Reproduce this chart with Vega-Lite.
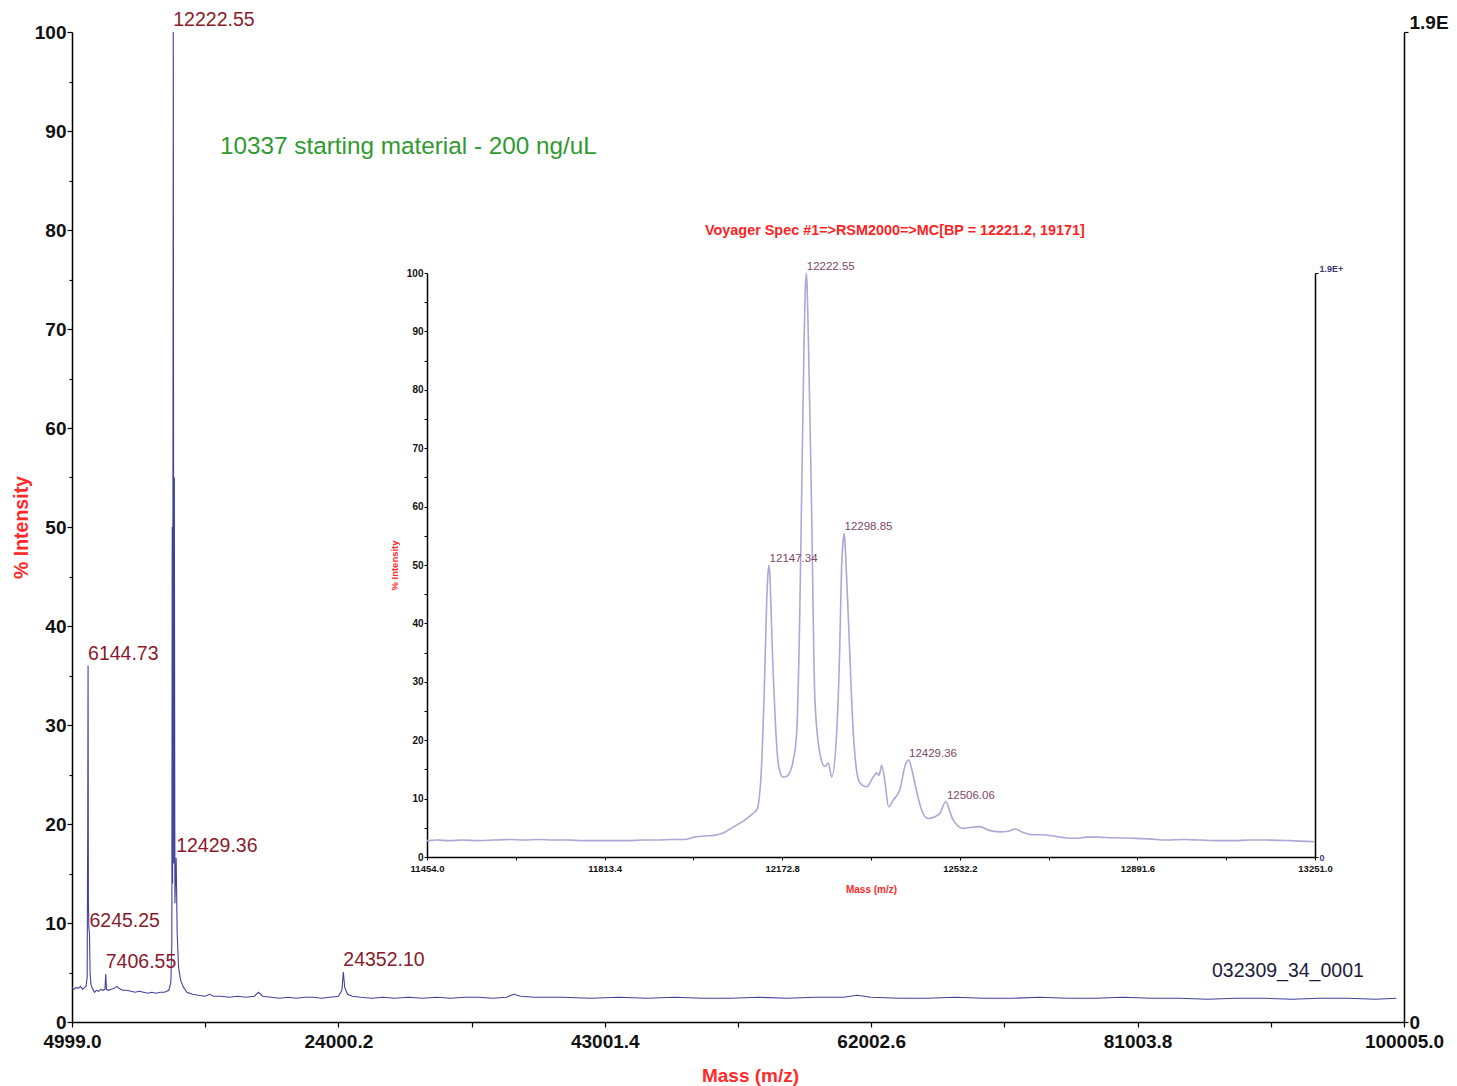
{
  "$schema": "https://vega.github.io/schema/vega-lite/v6.json",
  "width": 1332,
  "height": 990,
  "autosize": "none",
  "padding": {"left": 72, "top": 32, "right": 53, "bottom": 64},
  "background": "white",
  "config": {
    "view": {"stroke": null},
    "font": "Liberation Sans",
    "axis": {"grid": false, "domainColor": "#000", "tickColor": "#000", "labelFont": "Liberation Sans", "titleFont": "Liberation Sans", "labelColor": "#111", "labelFontWeight": "bold", "titleFontWeight": "bold", "titleColor": "#ff2a2a"}
  },
  "datasets": {
    "main": [
      {"m": 4999, "i": 3.5}, {"m": 5150, "i": 3.3}, {"m": 5300, "i": 3.5}, {"m": 5450, "i": 3.4}, {"m": 5600, "i": 3.6}, {"m": 5750, "i": 3.3}, {"m": 5900, "i": 3.5}, {"m": 6000, "i": 3.6}, {"m": 6080, "i": 4.5}, {"m": 6120, "i": 20}, {"m": 6144.73, "i": 36.0}, {"m": 6170, "i": 12}, {"m": 6200, "i": 9.5}, {"m": 6245.25, "i": 9.0}, {"m": 6290, "i": 5}, {"m": 6350, "i": 3.8}, {"m": 6450, "i": 3.4}, {"m": 6600, "i": 3.0}, {"m": 6750, "i": 3.2}, {"m": 6900, "i": 3.1}, {"m": 7050, "i": 3.3}, {"m": 7200, "i": 3.2}, {"m": 7350, "i": 3.3}, {"m": 7406.55, "i": 4.85}, {"m": 7460, "i": 3.3}, {"m": 7600, "i": 3.2}, {"m": 7800, "i": 3.3}, {"m": 8000, "i": 3.4}, {"m": 8200, "i": 3.6}, {"m": 8350, "i": 3.4}, {"m": 8600, "i": 3.2}, {"m": 8900, "i": 3.2}, {"m": 9200, "i": 3.1}, {"m": 9500, "i": 3.0}, {"m": 9800, "i": 3.1}, {"m": 10100, "i": 3.0}, {"m": 10400, "i": 2.9}, {"m": 10700, "i": 3.0}, {"m": 11000, "i": 2.9}, {"m": 11300, "i": 3.0}, {"m": 11600, "i": 3.0}, {"m": 11900, "i": 3.2}, {"m": 12050, "i": 4}, {"m": 12120, "i": 8}, {"m": 12147.34, "i": 50}, {"m": 12175, "i": 14}, {"m": 12222.55, "i": 100}, {"m": 12260, "i": 16}, {"m": 12298.85, "i": 55}, {"m": 12340, "i": 12}, {"m": 12429.36, "i": 16.6}, {"m": 12500, "i": 9}, {"m": 12600, "i": 5.5}, {"m": 12750, "i": 4.2}, {"m": 12950, "i": 3.5}, {"m": 13200, "i": 3.0}, {"m": 13600, "i": 2.8}, {"m": 14000, "i": 2.7}, {"m": 14500, "i": 2.6}, {"m": 14800, "i": 2.8}, {"m": 15100, "i": 2.6}, {"m": 15600, "i": 2.6}, {"m": 16200, "i": 2.5}, {"m": 16800, "i": 2.6}, {"m": 17400, "i": 2.5}, {"m": 18000, "i": 2.6}, {"m": 18300, "i": 3.0}, {"m": 18600, "i": 2.6}, {"m": 19200, "i": 2.5}, {"m": 19800, "i": 2.4}, {"m": 20400, "i": 2.5}, {"m": 21000, "i": 2.4}, {"m": 21600, "i": 2.5}, {"m": 22200, "i": 2.5}, {"m": 22800, "i": 2.4}, {"m": 23400, "i": 2.5}, {"m": 24000, "i": 2.6}, {"m": 24250, "i": 3.2}, {"m": 24352.1, "i": 5.05}, {"m": 24450, "i": 3.5}, {"m": 24650, "i": 2.8}, {"m": 25000, "i": 2.6}, {"m": 25600, "i": 2.5}, {"m": 26400, "i": 2.4}, {"m": 27200, "i": 2.5}, {"m": 28000, "i": 2.4}, {"m": 29000, "i": 2.5}, {"m": 30000, "i": 2.4}, {"m": 31000, "i": 2.5}, {"m": 32000, "i": 2.4}, {"m": 33000, "i": 2.5}, {"m": 34000, "i": 2.5}, {"m": 35000, "i": 2.4}, {"m": 36000, "i": 2.5}, {"m": 36500, "i": 2.8}, {"m": 37000, "i": 2.6}, {"m": 38000, "i": 2.5}, {"m": 40000, "i": 2.5}, {"m": 42000, "i": 2.4}, {"m": 44000, "i": 2.5}, {"m": 46000, "i": 2.4}, {"m": 48000, "i": 2.5}, {"m": 50000, "i": 2.4}, {"m": 52000, "i": 2.4}, {"m": 54000, "i": 2.5}, {"m": 56000, "i": 2.4}, {"m": 58000, "i": 2.5}, {"m": 60000, "i": 2.5}, {"m": 61000, "i": 2.7}, {"m": 62000, "i": 2.5}, {"m": 64000, "i": 2.4}, {"m": 66000, "i": 2.4}, {"m": 68000, "i": 2.5}, {"m": 70000, "i": 2.4}, {"m": 72000, "i": 2.4}, {"m": 74000, "i": 2.5}, {"m": 76000, "i": 2.4}, {"m": 78000, "i": 2.4}, {"m": 80000, "i": 2.5}, {"m": 82000, "i": 2.4}, {"m": 84000, "i": 2.4}, {"m": 86000, "i": 2.3}, {"m": 88000, "i": 2.4}, {"m": 90000, "i": 2.4}, {"m": 92000, "i": 2.3}, {"m": 94000, "i": 2.4}, {"m": 96000, "i": 2.4}, {"m": 98000, "i": 2.3}, {"m": 99450, "i": 2.4}
    ],
    "mainLabels": [
      {"m": 12222.55, "i": 100, "t": "12222.55"},
      {"m": 6144.73, "i": 36.0, "t": "6144.73"},
      {"m": 12429.36, "i": 16.6, "t": "12429.36"},
      {"m": 6245.25, "i": 9.0, "t": "6245.25"},
      {"m": 7406.55, "i": 4.85, "t": "7406.55"},
      {"m": 24352.1, "i": 5.05, "t": "24352.10"}
    ],
    "inset": [
      {"m": 11454, "i": 2.8}, {"m": 11475, "i": 2.9}, {"m": 11500, "i": 2.8}, {"m": 11525, "i": 2.9}, {"m": 11560, "i": 2.8}, {"m": 11590, "i": 2.9}, {"m": 11620, "i": 3.0}, {"m": 11650, "i": 2.9}, {"m": 11680, "i": 3.0}, {"m": 11710, "i": 2.9}, {"m": 11740, "i": 2.9}, {"m": 11770, "i": 2.8}, {"m": 11800, "i": 2.8}, {"m": 11830, "i": 2.8}, {"m": 11860, "i": 2.8}, {"m": 11890, "i": 2.9}, {"m": 11920, "i": 2.9}, {"m": 11950, "i": 3.0}, {"m": 11975, "i": 3.0}, {"m": 11995, "i": 3.4}, {"m": 12015, "i": 3.6}, {"m": 12035, "i": 3.7}, {"m": 12053, "i": 4.1}, {"m": 12075, "i": 5.2}, {"m": 12097, "i": 6.3}, {"m": 12110, "i": 7.2}, {"m": 12122, "i": 8.2}, {"m": 12131, "i": 15.5}, {"m": 12137, "i": 30}, {"m": 12141.5, "i": 44}, {"m": 12144, "i": 48.5}, {"m": 12146, "i": 50}, {"m": 12148, "i": 48}, {"m": 12150, "i": 43}, {"m": 12154, "i": 32.6}, {"m": 12159, "i": 23}, {"m": 12164, "i": 16.6}, {"m": 12169, "i": 14.4}, {"m": 12174, "i": 13.7}, {"m": 12181, "i": 13.8}, {"m": 12188, "i": 14.4}, {"m": 12195, "i": 16.5}, {"m": 12202, "i": 21.2}, {"m": 12208, "i": 40}, {"m": 12212, "i": 61}, {"m": 12217, "i": 88}, {"m": 12220, "i": 98}, {"m": 12221.6, "i": 100}, {"m": 12223, "i": 98}, {"m": 12226, "i": 88}, {"m": 12232, "i": 61}, {"m": 12239, "i": 26.9}, {"m": 12249, "i": 17.8}, {"m": 12259, "i": 15.5}, {"m": 12266, "i": 16.1}, {"m": 12273, "i": 13.7}, {"m": 12283, "i": 21.2}, {"m": 12289, "i": 35}, {"m": 12293, "i": 49.7}, {"m": 12296, "i": 54}, {"m": 12298.5, "i": 55.4}, {"m": 12301, "i": 52}, {"m": 12306.6, "i": 41}, {"m": 12316.7, "i": 21.2}, {"m": 12323, "i": 15}, {"m": 12330, "i": 12.7}, {"m": 12343.7, "i": 12.0}, {"m": 12357, "i": 13.7}, {"m": 12364, "i": 14.4}, {"m": 12369, "i": 14.0}, {"m": 12374, "i": 15.7}, {"m": 12381, "i": 12.7}, {"m": 12388, "i": 8.6}, {"m": 12398, "i": 9.8}, {"m": 12411, "i": 11.5}, {"m": 12421, "i": 15.5}, {"m": 12429, "i": 16.6}, {"m": 12435, "i": 15.0}, {"m": 12441, "i": 12.7}, {"m": 12455, "i": 8.0}, {"m": 12468, "i": 6.6}, {"m": 12482, "i": 6.9}, {"m": 12492, "i": 7.5}, {"m": 12504, "i": 9.5}, {"m": 12512, "i": 7.8}, {"m": 12519, "i": 6.3}, {"m": 12539, "i": 4.9}, {"m": 12556, "i": 5.1}, {"m": 12573, "i": 5.2}, {"m": 12590, "i": 4.6}, {"m": 12613, "i": 4.3}, {"m": 12630, "i": 4.4}, {"m": 12644, "i": 4.8}, {"m": 12660, "i": 4.2}, {"m": 12680, "i": 3.8}, {"m": 12700, "i": 3.8}, {"m": 12721, "i": 3.6}, {"m": 12745, "i": 3.3}, {"m": 12769, "i": 3.2}, {"m": 12790, "i": 3.4}, {"m": 12810, "i": 3.4}, {"m": 12840, "i": 3.3}, {"m": 12883, "i": 3.2}, {"m": 12915, "i": 3.1}, {"m": 12951, "i": 2.9}, {"m": 12985, "i": 3.0}, {"m": 13018, "i": 2.9}, {"m": 13050, "i": 2.8}, {"m": 13085, "i": 2.8}, {"m": 13120, "i": 2.9}, {"m": 13154, "i": 2.9}, {"m": 13200, "i": 2.8}, {"m": 13251, "i": 2.6}
    ],
    "insetLabels": [
      {"m": 12222.55, "i": 100, "t": "12222.55"},
      {"m": 12147.34, "i": 50, "t": "12147.34"},
      {"m": 12298.85, "i": 55.4, "t": "12298.85"},
      {"m": 12429.36, "i": 16.6, "t": "12429.36"},
      {"m": 12506.06, "i": 9.5, "t": "12506.06"}
    ],
    "ends": [{"v": 0}, {"v": 100}]
  },
  "layer": [
    {
      "layer": [
        {
          "data": {"name": "main"},
          "mark": {"type": "line", "stroke": "#42429c", "strokeWidth": 1.1},
          "encoding": {
            "x": {"field": "m", "type": "quantitative", "scale": {"domain": [4999, 100005], "nice": false, "zero": false},
              "axis": {"title": "Mass (m/z)", "titleFontSize": 19, "titlePadding": 15, "titleX": 678, "values": [4999, 14499.6, 24000.2, 33500.8, 43001.4, 52502, 62002.6, 71503.2, 81003.8, 90504.4, 100005],
                "labelExpr": "round((datum.value - 4999) / 9500.6) % 2 === 0 ? format(datum.value, '.1f') : ''",
                "labelFontSize": 19, "labelFlush": false, "labelPadding": 5, "tickSize": 5, "domainWidth": 1.5, "tickWidth": 1.2}},
            "y": {"field": "i", "type": "quantitative", "scale": {"domain": [0, 100], "nice": false},
              "axis": {"title": "% Intensity", "titleFontSize": 19.5, "titlePadding": 3, "orient": "left", "values": [0, 5, 10, 15, 20, 25, 30, 35, 40, 45, 50, 55, 60, 65, 70, 75, 80, 85, 90, 95, 100],
                "labelExpr": "datum.value % 10 === 0 ? datum.label : ''",
                "tickSize": {"condition": {"test": "datum.value % 10 === 0", "value": 5}, "value": 3},
                "labelFontSize": 19, "labelPadding": 1, "domainWidth": 1.5, "tickWidth": 1.2}}
          }
        },
        {
          "data": {"name": "mainLabels"},
          "mark": {"type": "text", "align": "left", "baseline": "bottom", "dy": -2, "fontSize": 19.5, "color": "#8a1b2b", "font": "Liberation Sans"},
          "encoding": {
            "x": {"field": "m", "type": "quantitative"},
            "y": {"field": "i", "type": "quantitative"},
            "text": {"field": "t"}
          }
        },
        {
          "data": {"values": [{"note": "10337 starting material - 200 ng/uL"}]},
          "mark": {"type": "text", "align": "left", "baseline": "middle", "fontSize": 24.3, "color": "#2f9a2f", "font": "Liberation Sans"},
          "encoding": {
            "x": {"datum": 15555, "type": "quantitative"},
            "y": {"datum": 88.4, "type": "quantitative"},
            "text": {"field": "note"}
          }
        },
        {
          "data": {"values": [{"note": "032309_34_0001"}]},
          "mark": {"type": "text", "align": "left", "baseline": "middle", "fontSize": 19.5, "color": "#1c1c3a", "font": "Liberation Sans"},
          "encoding": {
            "x": {"datum": 86311, "type": "quantitative"},
            "y": {"datum": 5.15, "type": "quantitative"},
            "text": {"field": "note"}
          }
        }
      ]
    },
    {
      "data": {"name": "ends"},
      "mark": {"type": "text", "text": ""},
      "encoding": {
        "y": {"field": "v", "type": "quantitative", "scale": {"domain": [0, 100], "nice": false},
          "axis": {"orient": "right", "title": null, "values": [0, 100], "labelExpr": "datum.value === 100 ? '1.9E' : '0'",
            "labelBaseline": {"condition": {"test": "datum.value === 100", "value": "bottom"}, "value": "middle"},
            "labelFontSize": 19, "labelPadding": 1, "tickSize": 4, "domainWidth": 1.5, "tickWidth": 1.2}}
      }
    },
    {
      "layer": [
        {
          "data": {"name": "inset"},
          "mark": {"type": "line", "stroke": "#a9a9d6", "strokeWidth": 1.6, "interpolate": "monotone"},
          "encoding": {
            "x": {"field": "m", "type": "quantitative", "scale": {"domain": [11454, 13251], "range": [355, 1243], "nice": false, "zero": false},
              "axis": {"orient": "bottom", "offset": -165, "title": "Mass (m/z)", "titleFontSize": 10, "titlePadding": 12,
                "values": [11454, 11633.7, 11813.4, 11993.1, 12172.8, 12352.5, 12532.2, 12711.9, 12891.6, 13071.3, 13251],
                "labelExpr": "round((datum.value - 11454) / 179.7) % 2 === 0 ? format(datum.value, '.1f') : ''",
                "labelFontSize": 9.5, "labelFlush": false, "labelPadding": 3, "tickSize": 3, "domainWidth": 1.5}},
            "y": {"field": "i", "type": "quantitative", "scale": {"domain": [0, 100], "range": [825, 241], "nice": false},
              "axis": {"orient": "left", "offset": -355, "title": "% Intensity", "titleFontSize": 9.5, "titlePadding": 7,
                "values": [0, 5, 10, 15, 20, 25, 30, 35, 40, 45, 50, 55, 60, 65, 70, 75, 80, 85, 90, 95, 100],
                "labelExpr": "datum.value % 10 === 0 ? datum.label : ''",
                "labelFontSize": 10, "labelPadding": 1, "tickSize": 3, "domainWidth": 1.5}}
          }
        },
        {
          "data": {"name": "insetLabels"},
          "mark": {"type": "text", "align": "left", "baseline": "bottom", "dy": -1, "fontSize": 11.5, "color": "#7d4766", "font": "Liberation Sans"},
          "encoding": {
            "x": {"field": "m", "type": "quantitative"},
            "y": {"field": "i", "type": "quantitative"},
            "text": {"field": "t"}
          }
        },
        {
          "data": {"values": [{"note": "Voyager Spec #1=>RSM2000=>MC[BP = 12221.2, 19171]"}]},
          "mark": {"type": "text", "align": "center", "baseline": "middle", "fontSize": 14.4, "fontWeight": "bold", "color": "#ff1f1f", "font": "Liberation Sans"},
          "encoding": {
            "x": {"datum": 12401, "type": "quantitative"},
            "y": {"datum": 107.2, "type": "quantitative"},
            "text": {"field": "note"}
          }
        }
      ]
    },
    {
      "data": {"name": "ends"},
      "mark": {"type": "text", "text": ""},
      "encoding": {
        "y": {"field": "v", "type": "quantitative", "scale": {"domain": [0, 100], "range": [825, 241], "nice": false},
          "axis": {"orient": "right", "offset": -89, "title": null, "values": [0, 100], "labelExpr": "datum.value === 100 ? '1.9E+' : '0'",
            "labelBaseline": {"condition": {"test": "datum.value === 100", "value": "bottom"}, "value": "middle"},
            "labelFontSize": 9, "labelColor": "#3a3a70", "labelPadding": 1, "tickSize": 3, "domainWidth": 1.5}}
      }
    }
  ],
  "resolve": {"scale": {"x": "independent", "y": "independent"}}
}
